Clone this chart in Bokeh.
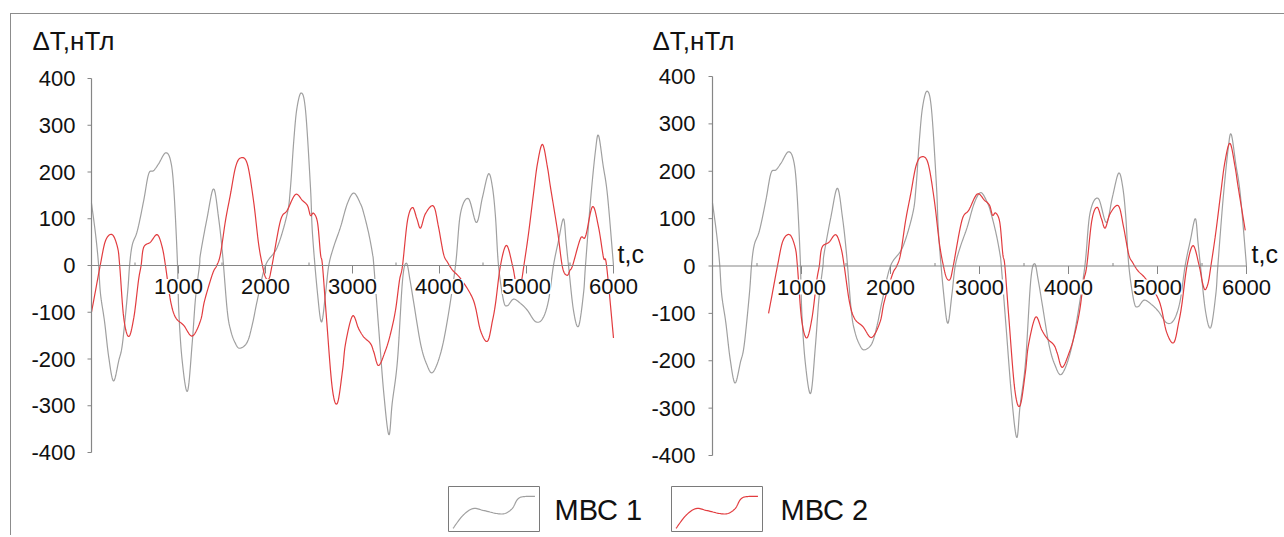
from bokeh.plotting import figure
from bokeh.models import Range1d, ColumnDataSource, LabelSet, Label
from bokeh.layouts import row, column
from bokeh.embed import file_html
from bokeh.resources import INLINE
from bokeh.core.properties import value

# ---------------- data ----------------
SERIES = ["МВС 1", "МВС 2"]
COLORS = ["#a0a0a0", "#e23c3f"]

T1 = [0, 46, 80, 103, 150, 198, 253, 314, 356, 414, 440, 470, 528, 600, 657, 715, 773, 851, 908, 945,
      985, 1003, 1042, 1103, 1157, 1195, 1241, 1253, 1330, 1403, 1460, 1506, 1560, 1600, 1650, 1703,
      1790, 1850, 1905, 2000, 2135, 2250, 2287, 2325, 2360, 2410, 2460, 2517, 2540, 2598, 2644, 2690,
      2727, 2782, 2862, 2940, 3015, 3092, 3130, 3187, 3230, 3245, 3300, 3360, 3418, 3456, 3517, 3575,
      3620, 3660, 3700, 3782, 3850, 3920, 4011, 4090, 4184, 4241, 4333, 4425, 4494, 4563, 4609, 4644,
      4678, 4736, 4780, 4850, 4931, 5011, 5103, 5184, 5253, 5310, 5368, 5425, 5455, 5483, 5540, 5598,
      5655, 5678, 5736, 5793, 5828, 5880, 5931, 6000]
V1 = [133, 68, 5, -60, -120, -196, -247, -203, -167, -60, 5, 45, 75, 139, 196, 203, 218, 241, 225, 167,
      20, -96, -203, -269, -167, -71, 0, 25, 103, 164, 103, 25, -96, -139, -165, -177,
      -164, -125, -75, 0, 39, 111, 167, 267, 335, 369, 332, 167, 68, -60, -121, -60,
      0, 39, 82, 132, 155, 132, 111, 68, 25, 0, -132, -274, -362, -295, -203, -32,
      5, -30, -75, -167, -210, -229, -189, -118, 0, 111, 143, 92, 146, 196, 167, 103,
      0, -75, -86, -72, -81, -96, -120, -114, -75, 0, 53, 100, 50, 0, -96, -130,
      -60, 0, 139, 246, 278, 215, 150, 0]

T2 = [0, 50, 100, 161, 238, 299, 324, 370, 428, 487, 540, 570, 600, 678, 756, 813, 850, 908, 966, 1060,
      1158, 1253, 1300, 1393, 1440, 1483, 1540, 1598, 1655, 1713, 1790, 1862, 1920, 1965, 2000, 2040,
      2075, 2172, 2250, 2345, 2425, 2483, 2517, 2552, 2598, 2632, 2655, 2700, 2766, 2825, 2885, 2920,
      3000, 3070, 3130, 3207, 3245, 3300, 3379, 3437, 3494, 3540, 3575, 3632, 3690, 3740, 3782, 3839,
      3931, 3989, 4046, 4092, 4150, 4250, 4391, 4471, 4552, 4609, 4644, 4701, 4770, 4839, 4875, 4905,
      4940, 4970, 5023, 5080, 5126, 5184, 5241, 5276, 5356, 5414, 5467, 5500, 5530, 5621, 5678, 5759,
      5828, 5885, 5920, 6000]
V2 = [-100, -50, 0, 53, 66, 39, 0, -111, -152, -111, -32, 0, 39, 50, 66, 39, 0, -75, -111, -128,
      -151, -118, -75, -17, 0, 25, 96, 153, 210, 230, 218, 139, 47, 0, -25, -28,
      0, 96, 118, 152, 139, 128, 107, 112, 92, 25, 0, -110, -260, -295, -225, -167,
      -108, -135, -153, -167, -185, -214, -182, -146, -96, -32, 0, 96, 124, 100, 80, 111,
      127, 82, 25, 7, -10, -30, -75, -139, -162, -118, -81, 0, 43, 0, -35, -50,
      -35, 0, 68, 153, 218, 259, 210, 167, 75, -4, -21, -10, 0, 58, 62, 126,
      82, 17, 0, -155]

SHIFT2 = 630  # time shift of series 2 in the right panel, s

X_MAJOR = [1000, 2000, 3000, 4000, 5000, 6000]
X_LABELS = ["1000", "2000", "3000", "4000", "5000", "6000"]
X_MINOR = [500, 1500, 2500, 3500, 4500, 5500]
Y_TICKS = [-400, -300, -200, -100, 0, 100, 200, 300, 400]
Y_LABELS = ["-400", "-300", "-200", "-100", "0", "100", "200", "300", "400"]
Y_TITLE = "ΔT,нТл"
X_TITLE = "t,c"

X_MIN, X_MAX = 0, 6000
Y_MIN, Y_MAX = -400, 400

FONT = "Liberation Sans"
AXIS_COLOR = "#868686"
TEXT_COLOR = "#111111"


def smooth(xs, ys, n=10):
    """Smoothed-line rendering (Catmull-Rom) through the read points."""
    pts = list(zip(xs, ys))
    ox, oy = [], []
    m = len(pts)
    for i in range(m - 1):
        p0 = pts[i - 1] if i > 0 else pts[i]
        p1 = pts[i]
        p2 = pts[i + 1]
        p3 = pts[i + 2] if i + 2 < m else pts[i + 1]
        for k in range(n):
            s = k / n
            s2, s3 = s * s, s * s * s
            res = []
            for d in range(2):
                a0, a1, a2, a3 = p0[d], p1[d], p2[d], p3[d]
                res.append(0.5 * (2 * a1 + (-a0 + a2) * s + (2 * a0 - 5 * a1 + 4 * a2 - a3) * s2
                                  + (-a0 + 3 * a1 - 3 * a2 + a3) * s3))
            ox.append(res[0])
            oy.append(res[1])
    ox.append(pts[-1][0])
    oy.append(pts[-1][1])
    return ox, oy


def make_panel(t2, v2, W, H, ax_left, ax_right, ax_top, ax_bottom, standoff, title_dx, title_dy, xt_dx):
    """W,H: canvas size; ax_*: pixel positions (within canvas) of the axis extremes."""
    ux = (X_MAX - X_MIN) / (ax_right - ax_left)      # data units per px (x)
    uy = (Y_MAX - Y_MIN) / (ax_bottom - ax_top)      # data units per px (y)
    xr = Range1d(X_MIN - ax_left * ux, X_MAX + (W - ax_right) * ux)
    yr = Range1d(Y_MIN - (H - ax_bottom) * uy, Y_MAX + ax_top * uy)
    p = figure(width=W, height=H, min_border=0, x_range=xr, y_range=yr,
               x_axis_type=None, y_axis_type=None,
               output_backend="svg", toolbar_location=None)
    p.grid.visible = False
    p.outline_line_color = None

    # curves
    gx, gy = smooth(T1, V1)
    p.line(gx, gy, line_color=COLORS[0], line_width=1.2)
    rx, ry = smooth(t2, v2)
    p.line(rx, ry, line_color=COLORS[1], line_width=1.2)

    # vertical axis
    p.segment(x0=[X_MIN], y0=[Y_MIN], x1=[X_MIN], y1=[Y_MAX], line_color=AXIS_COLOR, line_width=1.2)
    p.segment(x0=[X_MIN - 4 * ux] * len(Y_TICKS), y0=Y_TICKS, x1=[X_MIN] * len(Y_TICKS), y1=Y_TICKS,
              line_color=AXIS_COLOR, line_width=1)
    ysrc = ColumnDataSource(dict(x=[X_MIN] * len(Y_TICKS), y=Y_TICKS, text=Y_LABELS))
    p.add_layout(LabelSet(x="x", y="y", text="text", source=ysrc,
                          text_align="right", text_baseline="middle", x_offset=-(4 + standoff),
                          text_font=value(FONT), text_font_size=value("22px"),
                          text_color=TEXT_COLOR))

    # horizontal axis through zero
    p.segment(x0=[X_MIN], y0=[0], x1=[X_MAX], y1=[0], line_color=AXIS_COLOR, line_width=1.2)
    p.segment(x0=X_MINOR, y0=[0] * len(X_MINOR), x1=X_MINOR, y1=[3 * uy] * len(X_MINOR),
              line_color=AXIS_COLOR, line_width=1)
    p.segment(x0=X_MAJOR, y0=[0] * len(X_MAJOR), x1=X_MAJOR, y1=[-8 * uy] * len(X_MAJOR),
              line_color=AXIS_COLOR, line_width=1)
    xsrc = ColumnDataSource(dict(x=X_MAJOR, y=[0] * len(X_MAJOR), text=X_LABELS))
    p.add_layout(LabelSet(x="x", y="y", text="text", source=xsrc,
                          text_align="center", text_baseline="middle", y_offset=-21,
                          text_font=value(FONT), text_font_size=value("22px"),
                          text_color=TEXT_COLOR, background_fill_color="white"))

    p.add_layout(Label(x=X_MIN, y=Y_MAX, text=Y_TITLE, x_offset=title_dx, y_offset=title_dy,
                       text_align="left", text_baseline="alphabetic",
                       text_font=FONT, text_font_size="26px", text_color=TEXT_COLOR))
    p.add_layout(Label(x=X_MAX, y=0, text=X_TITLE, x_offset=xt_dx, y_offset=12,
                       text_align="left", text_baseline="alphabetic",
                       text_font=FONT, text_font_size="25px", text_color=TEXT_COLOR))
    return p


t2_shift = [t + SHIFT2 for t in T2 if t + SHIFT2 <= X_MAX]
v2_shift = [v for t, v in zip(T2, V2) if t + SHIFT2 <= X_MAX]

# canvases: p1 spans page x 11..646, p2 646..1284, both page y 14..471
p1 = make_panel(T2, V2, W=635, H=457, ax_left=80, ax_right=602, ax_top=64, ax_bottom=438,
                standoff=12, title_dx=-59, title_dy=38, xt_dx=4)
p2 = make_panel(t2_shift, v2_shift, W=638, H=457, ax_left=66, ax_right=600, ax_top=62, ax_bottom=441,
                standoff=13, title_dx=-60, title_dy=36, xt_dx=5)

# ---------------- legend ----------------
ICON_X = [0.05, 0.16, 0.27, 0.38, 0.53, 0.62, 0.70, 0.75, 0.79, 0.86, 0.95]
ICON_Y = [0.07, 0.36, 0.51, 0.47, 0.40, 0.40, 0.51, 0.69, 0.76, 0.78, 0.78]
BOX_LEFT = [448, 671]
BOX_W, BOX_TOP, BOX_BOTTOM = 91, 486, 531
TEXT_DX = [106, 109]

leg = figure(width=1272, height=64, x_range=Range1d(11, 1283), y_range=Range1d(535, 471),
             min_border=0, x_axis_type=None, y_axis_type=None,
             output_backend="svg", toolbar_location=None)
leg.grid.visible = False
leg.outline_line_color = None
for i, name in enumerate(SERIES):
    bl = BOX_LEFT[i]
    leg.quad(left=[bl], right=[bl + BOX_W], top=[BOX_TOP], bottom=[BOX_BOTTOM],
             fill_color=None, line_color="#7a7a7a", line_width=1)
    ix, iy = smooth([bl + x * BOX_W for x in ICON_X],
                    [BOX_BOTTOM - y * (BOX_BOTTOM - BOX_TOP) for y in ICON_Y])
    leg.line(ix, iy, line_color=COLORS[i], line_width=1.2)
    leg.text(x=[bl + TEXT_DX[i]], y=[509], text=[name], text_font=value(FONT),
             text_font_size=value("29px"), text_baseline="middle", text_align="left",
             text_color=TEXT_COLOR)

layout = column(row(p1, p2), leg, margin=(13, 0, 0, 10),
                styles={"border-top": "1px solid #8c8c8c", "border-left": "1px solid #8c8c8c"})

open("out.html", "w").write(file_html(layout, INLINE))
